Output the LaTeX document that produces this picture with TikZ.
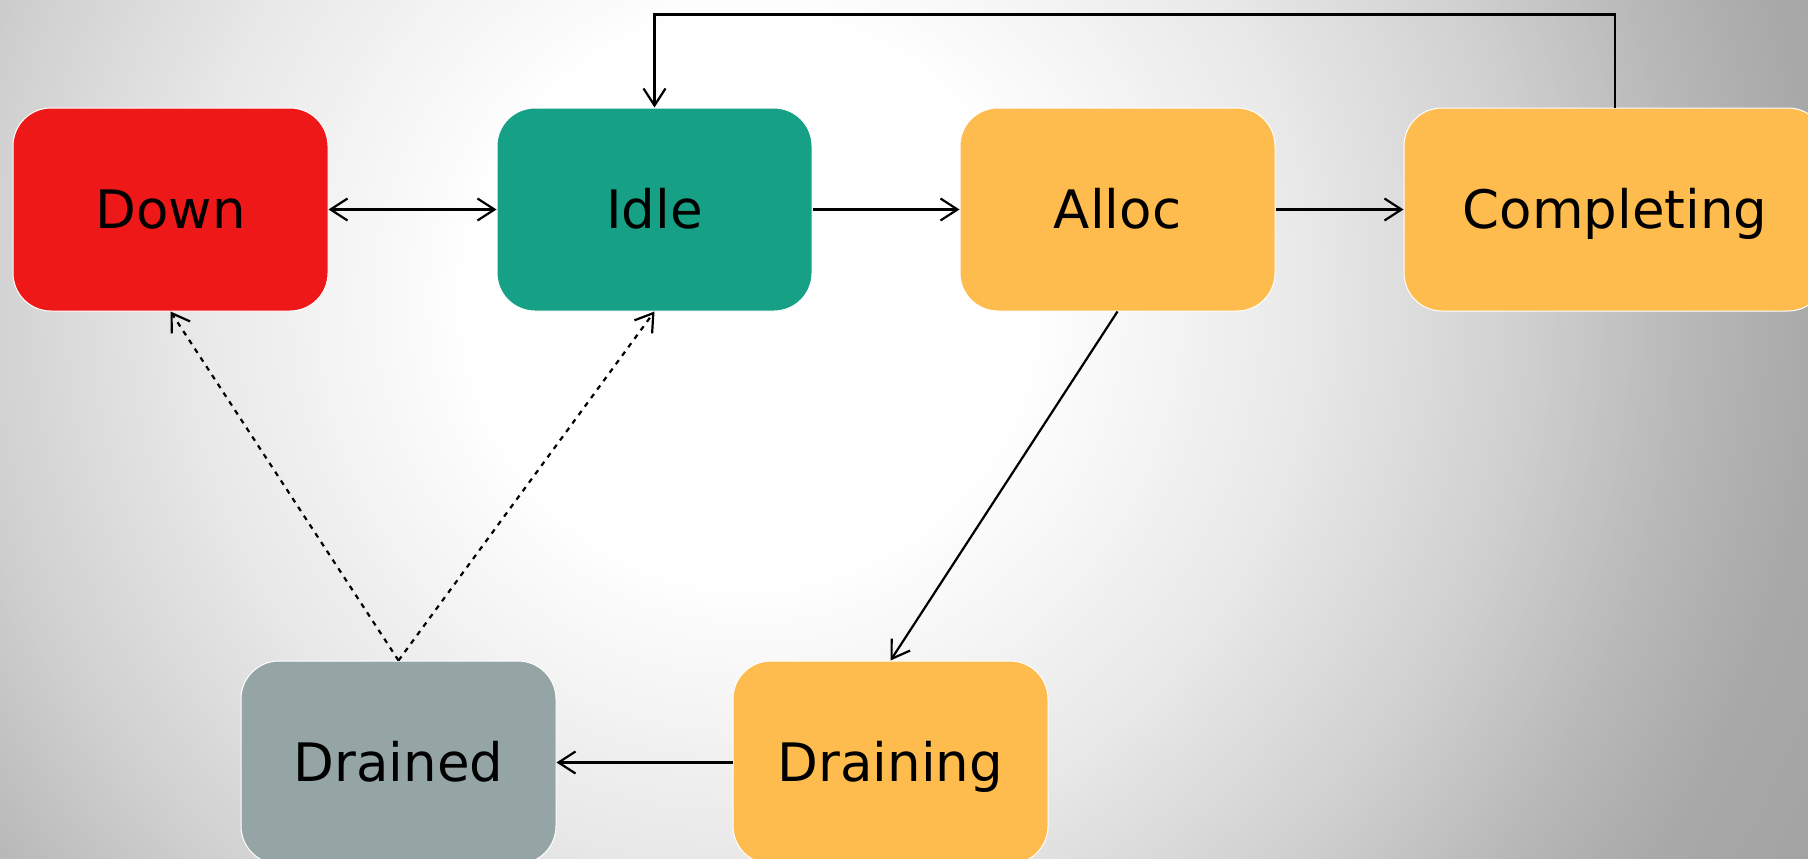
\documentclass[tikz,border=0pt]{standalone}
\usepackage{fontspec}
\setmainfont{DejaVu Sans}
\usetikzlibrary{arrows.meta}

\definecolor{stdown}{HTML}{EE1818}
\definecolor{stidle}{HTML}{16A085}
\definecolor{stbusy}{HTML}{FEBB4E}
\definecolor{stdrained}{HTML}{95A5A6}

\tikzset{
  state/.style={draw=white, line width=1pt, rounded corners=38pt,
    minimum width=315pt, minimum height=203pt, inner sep=0pt,
    text height=38.6pt, text depth=0pt,
    font=\fontsize{53}{60}\selectfont, text=black},
  barb/.tip={Straight Barb[length=17pt,width=22pt,line width=2.2pt]},
  flow/.style={line width=2.2pt, draw=black, -barb},
  twoway/.style={line width=2.2pt, draw=black, barb-barb},
  fallback/.style={flow, dash pattern=on 5pt off 5.5pt}
}

\begin{document}
\begin{tikzpicture}[x=1pt, y=-1pt]
  \useasboundingbox (0,0) rectangle (1808,859);
  \begin{scope}
    \clip (0,0) rectangle (1808,859);
    % backdrop: concentric rings, grey at the rim fading to a white core
    \fill[black!37] (0,0) rectangle (1808,859);
    \foreach \ra/\ga/\rb/\gb in {1500/0.63/1200/0.64, 1200/0.64/1070/0.66,
        1070/0.66/941/0.72, 941/0.72/775/0.815, 775/0.815/565/0.91,
        565/0.91/280/1.0}{
      \pgfmathtruncatemacro\n{(\ra-\rb)/4}
      \foreach \k in {0,...,\n}{
        \pgfmathsetmacro\t{\k/\n}
        \pgfmathsetmacro\r{\ra-(\ra-\rb)*\t}
        \pgfmathsetmacro\p{100*(1-(\ga+(\gb-\ga)*\t))}
        \fill[black!\p] (750,300) circle (\r pt);
      }
    }
    \fill[white] (750,300) circle (280pt);

    \node[state, fill=stdown]    (down)       at (170.5,209.5) {Down};
    \node[state, fill=stidle]    (idle)       at (654.5,209.5) {Idle};
    \node[state, fill=stbusy]    (alloc)      at (1117.5,209.5) {Alloc};
    \node[state, fill=stbusy, minimum width=422pt] (completing) at (1615,209.5) {Completing};
    \node[state, fill=stdrained] (drained)    at (398.5,762.5) {Drained};
    \node[state, fill=stbusy]    (draining)   at (890.5,762.5) {Draining};

    \draw[twoway] (down) -- (idle);
    \draw[flow] (idle) -- (alloc);
    \draw[flow] (alloc) -- (completing);
    \draw[flow] (completing.north) -- ++(0,-93) -| (idle.north);
    \draw[flow] (alloc.south) -- (draining.north);
    \draw[flow] (draining.west) -- (drained.east);
    \draw[fallback] (drained.north) -- (down.south);
    \draw[fallback] (drained.north) -- (idle.south);
  \end{scope}
\end{tikzpicture}
\end{document}
